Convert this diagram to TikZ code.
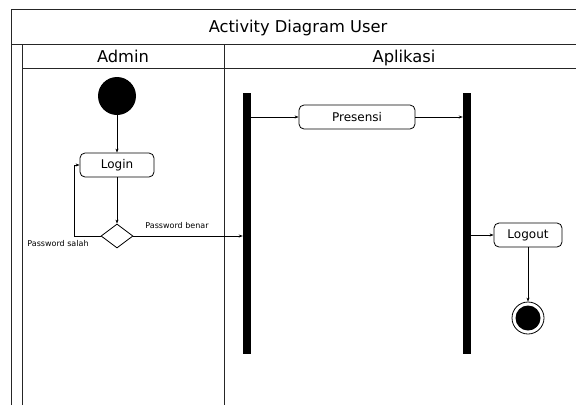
\documentclass[tikz,border=0pt]{standalone}
\usepackage{fontspec}
\setmainfont{DejaVu Sans}
\usetikzlibrary{shapes.geometric,arrows.meta}
\begin{document}
\begin{tikzpicture}[x=1pt,y=-1pt,
  lane/.style={line width=1pt,draw=black!85},
  action/.style={draw,rounded corners=5pt,line width=0.8pt,minimum height=24pt,font=\fontsize{12}{14}\selectfont,inner sep=0pt},
  flow/.style={line width=0.7pt,-{Stealth[length=4pt,width=3pt]}},
  bar/.style={fill=black,draw=none,minimum width=8pt,minimum height=261pt,inner sep=0pt},
  guard/.style={font=\fontsize{8}{9}\selectfont,inner sep=0pt},
  head/.style={font=\fontsize{16.3}{18}\selectfont,inner sep=0pt,anchor=base}]
\useasboundingbox (0,0) rectangle (576,405);

% swimlane frame
\draw[lane] (11,405) -- (11,9) -- (576,9);
\draw[lane] (11,44) -- (576,44);
\draw[lane] (22,405) -- (22,44);
\draw[lane] (22,68) -- (576,68);
\draw[lane] (224,44) -- (224,405);

\node[head] (title) at (298,32) {Activity Diagram User};
\node[head] (admin) at (123,62) {Admin};
\node[head] (apl) at (404,62) {Aplikasi};

% admin lane
\node[circle,fill=black,minimum size=38pt,inner sep=0pt] (start) at (117,96) {};
\node[action,minimum width=74pt] (login) at (117,165) {Login};
\node[diamond,draw,line width=0.8pt,aspect=1.35,minimum width=32pt,minimum height=24pt,inner sep=0pt] (dec) at (117,236) {};
\coordinate (loopA) at (74,236);
\coordinate (loopB) at (74,165);

% application lane
\node[bar] (fork) at (247,223.5) {};
\node[bar] (join) at (467,223.5) {};
\node[action,minimum width=116pt] (pres) at (357,117) {Presensi};
\node[action,minimum width=68pt] (logout) at (528,235) {Logout};
\node[circle,draw,line width=0.8pt,fill=white,minimum size=32pt,inner sep=0pt] (end) at (528,318) {};
\node[circle,fill=black,minimum size=25pt,inner sep=0pt] (endin) at (528,318) {};

% flows
\draw[flow] (start) -- (login);
\draw[flow] (login) -- (dec);
\draw[flow] (dec.west) -- (loopA) -- (loopB) -- (login.west);
\draw[flow] (dec.east) -- (dec.east -| fork.west);
\draw[flow] (pres.west -| fork.east) -- (pres.west);
\draw[flow] (pres.east) -- (pres.east -| join.west);
\draw[flow] (logout.west -| join.east) -- (logout.west);
\draw[flow] (logout) -- (end);

\node[guard] (gsalah) at (58,244) {Password salah};
\node[guard] (gbenar) at (177,226) {Password benar};
\end{tikzpicture}
\end{document}
